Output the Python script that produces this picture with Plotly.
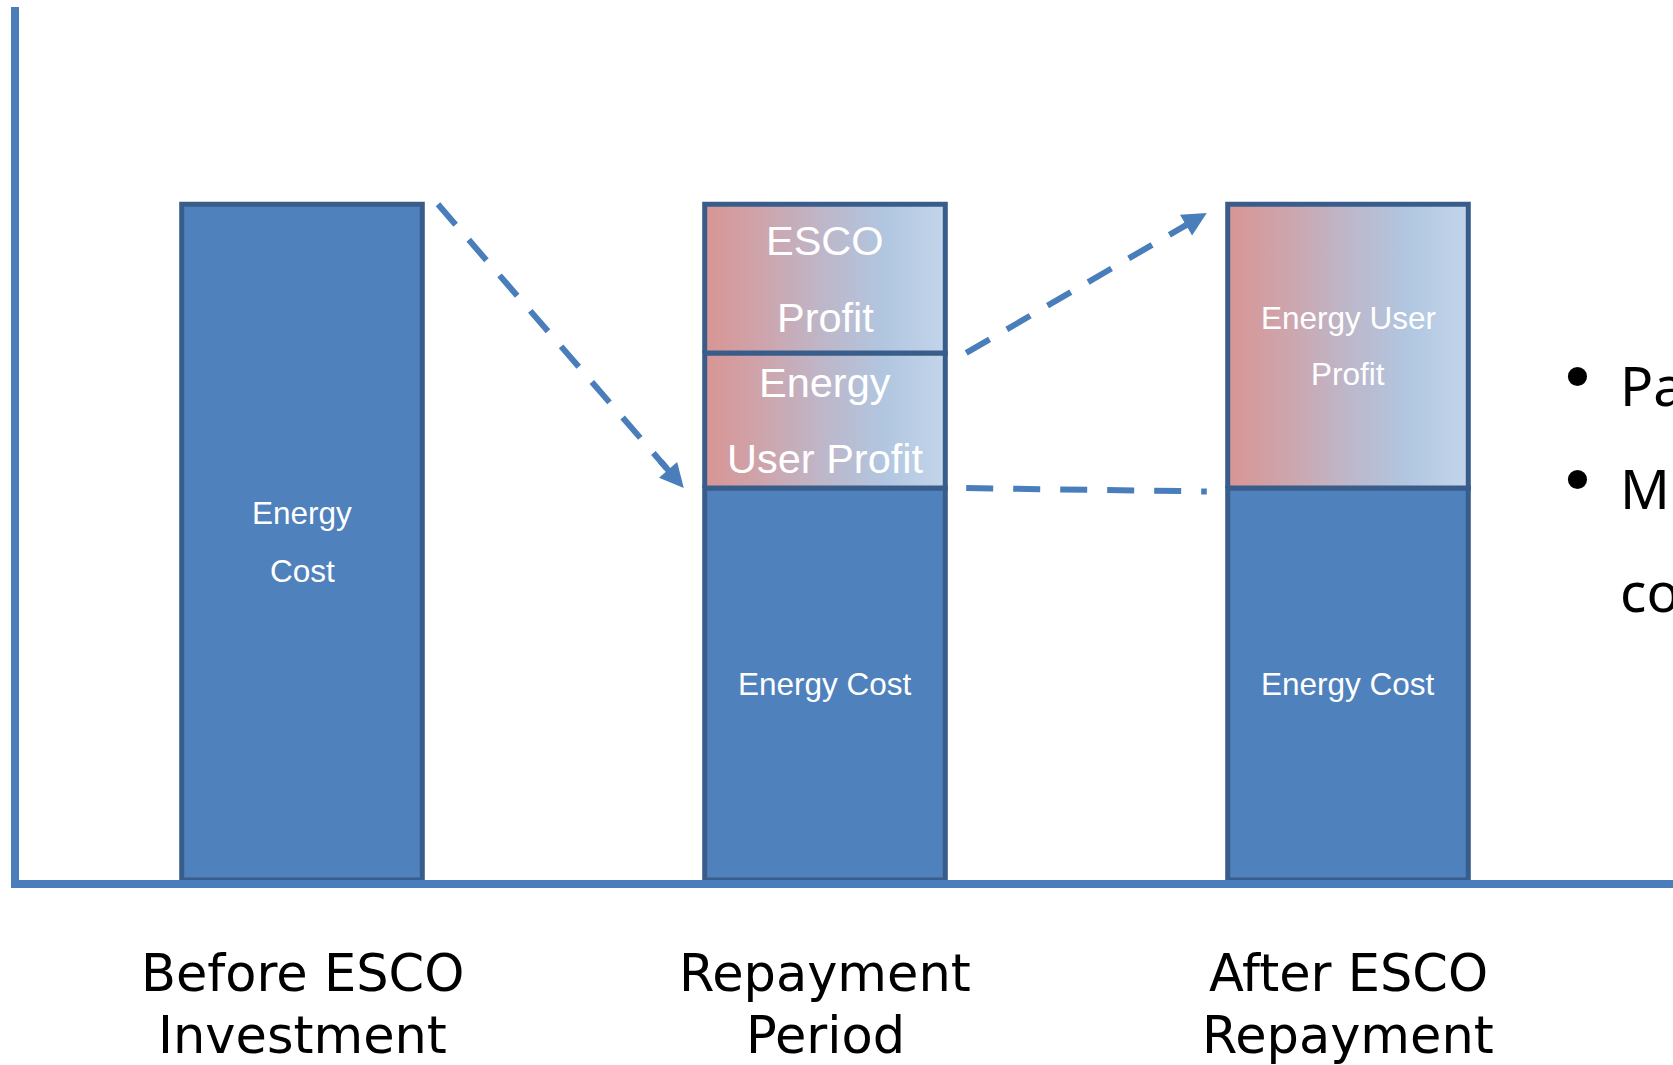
import plotly.graph_objects as go

# ---------------- data ----------------
categories = ["Before ESCO<br>Investment", "Repayment<br>Period", "After ESCO<br>Repayment"]
energy_cost = [100, 58, 58]
energy_user_profit = [0, 20, 42]
esco_profit = [0, 22, 0]

cost_labels = [["Energy", "Cost"], ["Energy Cost"], ["Energy Cost"]]
user_profit_labels = [None, ["Energy", "User Profit"], ["Energy User", "Profit"]]
esco_profit_labels = [None, ["ESCO", "Profit"], None]
side_bullets = ["Pa", "Mo", "co"]

# ---------------- styles ----------------
BLUE = "#4F81BD"
BORDER = "#385D8A"
AXIS = "#4A7EBB"
GRAD = [[0.0, "#D99594"], [0.25, "#CDA5AD"], [0.5, "#BDB7CA"],
        [0.75, "#B1C6E0"], [1.0, "#C3D5EA"]]
BAR_W = 0.46
LABEL_FONT = "Liberation Sans, Arial, sans-serif"

xs = list(range(len(categories)))
fig = go.Figure()

# energy cost bars
fig.add_trace(go.Bar(
    x=xs, y=energy_cost, width=BAR_W,
    marker=dict(color=BLUE, line=dict(color=BORDER, width=5)),
    showlegend=False, hoverinfo="skip",
))


def gradient_segment(i, base, height):
    x0, x1 = i - BAR_W / 2, i + BAR_W / 2
    fig.add_trace(go.Scatter(
        x=[x0, x1, x1, x0, x0],
        y=[base, base, base + height, base + height, base],
        mode="lines", fill="toself",
        fillgradient=dict(type="horizontal", colorscale=GRAD),
        line=dict(color=BORDER, width=5),
        showlegend=False, hoverinfo="skip",
    ))


annotations = []


def seg_text(i, mid, lines, size, pitch):
    n = len(lines)
    for k, t in enumerate(lines):
        shift = ((n - 1) / 2 - k) * pitch
        annotations.append(dict(
            x=i, y=mid, xref="x", yref="y", text=t, showarrow=False,
            yshift=shift, font=dict(family=LABEL_FONT, size=size, color="white"),
        ))


for i in xs:
    b = energy_cost[i]
    if energy_user_profit[i] > 0:
        gradient_segment(i, b, energy_user_profit[i])
    b2 = b + energy_user_profit[i]
    if esco_profit[i] > 0:
        gradient_segment(i, b2, esco_profit[i])

# labels inside bars
for i in xs:
    seg_text(i, energy_cost[i] / 2, cost_labels[i], 31.5, 58)
    if user_profit_labels[i]:
        size = 41.5 if esco_profit[i] > 0 else 31.5
        pitch = 76 if esco_profit[i] > 0 else 56
        seg_text(i, energy_cost[i] + energy_user_profit[i] / 2, user_profit_labels[i], size, pitch)
    if esco_profit_labels[i]:
        seg_text(i, energy_cost[i] + energy_user_profit[i] + esco_profit[i] / 2,
                 esco_profit_labels[i], 41.5, 77)

# category labels under the axis
for i, c in enumerate(categories):
    for k, t in enumerate(c.split("<br>")):
        annotations.append(dict(
            x=i, y=0, xref="x", yref="paper", text=t, showarrow=False,
            yanchor="middle", yshift=-93 - 62 * k,
            font=dict(family="DejaVu Sans, sans-serif", size=51, color="black"),
        ))

# dashed connectors derived from the bar values
GAP = 0.04
tot = [energy_cost[i] + energy_user_profit[i] + esco_profit[i] for i in xs]
connectors = [
    ((0 + BAR_W / 2 + 0.03, tot[0]), (1 - BAR_W / 2 - GAP, energy_cost[1]), True),
    ((1 + BAR_W / 2 + GAP, energy_cost[1] + energy_user_profit[1]), (2 - BAR_W / 2 - GAP, tot[2] - 1.3), True),
    ((1 + BAR_W / 2 + GAP, energy_cost[1]), (2 - BAR_W / 2 - GAP, energy_cost[2] - 0.5), False),
]
shapes = []
for (sx, sy), (ex, ey), head in connectors:
    if head:
        fx, fy = sx + (ex - sx) * 0.93, sy + (ey - sy) * 0.93
    else:
        fx, fy = ex, ey
    shapes.append(dict(type="line", xref="x", yref="y", x0=sx, y0=sy, x1=fx, y1=fy,
                       line=dict(color=AXIS, width=6, dash="27px,20px")))
    if head:
        annotations.append(dict(
            x=ex, y=ey, ax=sx + (ex - sx) * 0.9, ay=sy + (ey - sy) * 0.9,
            xref="x", yref="y", axref="x", ayref="y", text="", showarrow=True,
            arrowhead=2, arrowsize=0.8, arrowwidth=6, arrowcolor=AXIS,
        ))

# partially visible bullet text on the right edge
for k, t in enumerate(side_bullets):
    yc = 384 + 103 * k
    if k < 2:
        annotations.append(dict(
            x=1577, y=yc - 6, xref="paper", yref="paper", text="•",
            showarrow=False, xanchor="center", yanchor="middle",
            font=dict(family="DejaVu Sans, sans-serif", size=66, color="black"),
        ))
    annotations.append(dict(
        x=1618, y=yc, xref="paper", yref="paper", text=t, showarrow=False,
        xanchor="left", yanchor="middle",
        font=dict(family="Noto Sans, sans-serif", size=55, color="black"),
    ))

# convert the right-side pixel positions to paper coordinates
L, R, T, B = 19, 0, 7, 185
W, H = 1673, 1065
pw, ph = W - L - R, H - T - B
for a in annotations:
    if a.get("xref") == "paper" and a.get("x", 0) > 2:
        a["x"] = (a["x"] - L) / pw
        a["y"] = (H - B - a["y"]) / ph

fig.update_layout(
    width=W, height=H,
    margin=dict(l=L, r=R, t=T, b=B, pad=0),
    paper_bgcolor="white", plot_bgcolor="white",
    xaxis=dict(range=[-0.5411, 2.6214], showgrid=False, zeroline=False,
               showticklabels=False, ticks="", showline=True,
               linecolor=AXIS, linewidth=8, fixedrange=True),
    yaxis=dict(range=[0, 129.2], showgrid=False, zeroline=False,
               showticklabels=False, ticks="", showline=True,
               linecolor=AXIS, linewidth=8, fixedrange=True),
    shapes=shapes,
    annotations=annotations,
    barmode="overlay",
    showlegend=False,
)

fig.write_html(
    "out.html",
    config={"displayModeBar": False},
    post_script="document.body.style.margin='0';document.body.style.overflow='hidden';",
)
